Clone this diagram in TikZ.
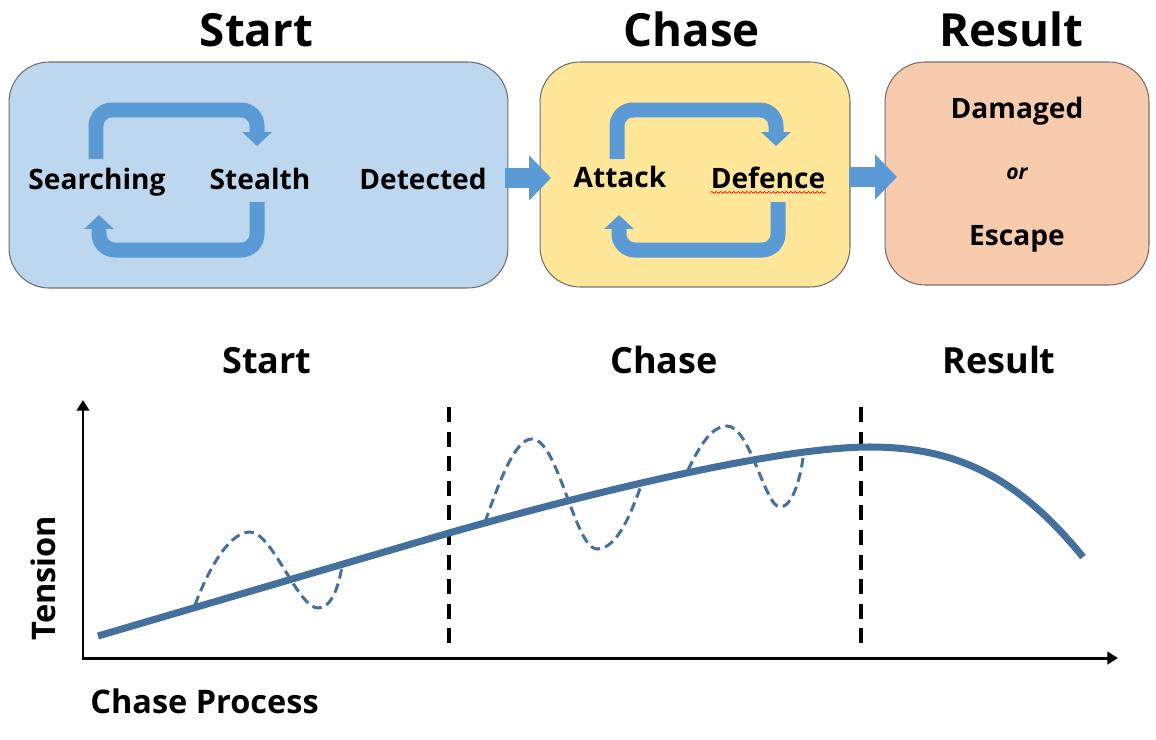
\documentclass[tikz,border=0pt]{standalone}
\usepackage{fontspec}
\setsansfont{Open Sans}
\usetikzlibrary{arrows.meta,decorations.pathmorphing}
\definecolor{startfill}{HTML}{BDD7EE}
\definecolor{chasefill}{HTML}{FFE699}
\definecolor{resultfill}{HTML}{F8CBAD}
\definecolor{boxline}{HTML}{6F6F6F}
\definecolor{flow}{HTML}{5B9BD5}
\definecolor{curvecol}{HTML}{44709E}
\begin{document}
\begin{tikzpicture}[x=0.02cm,y=-0.02cm,
  stagebox/.style={draw=boxline, line width=0.6pt, rounded corners=0.8cm, inner sep=0pt},
  title/.style={font=\sffamily\bfseries\fontsize{26}{30}\selectfont, anchor=base, inner sep=0pt},
  subtitle/.style={font=\sffamily\bfseries\fontsize{20.5}{24}\selectfont, anchor=base, inner sep=0pt},
  boxtext/.style={font=\sffamily\bfseries\fontsize{16}{19}\selectfont, anchor=base, inner sep=0pt},
  axislabel/.style={font=\sffamily\bfseries\fontsize{18.5}{22}\selectfont, anchor=base, inner sep=0pt},
  bigflow/.style={draw=flow, line width=0.4cm, -{Triangle[width=0.88cm,length=0.44cm]}},
  loopflow/.style={draw=flow, line width=0.3cm, rounded corners=0.32cm, -{Triangle[width=0.58cm,length=0.28cm]}},
  axis/.style={line width=1.7pt, line join=miter, {Triangle[width=7pt,length=6pt]}-{Triangle[width=7pt,length=6pt]}},
  divider/.style={line width=2.2pt, dash pattern=on 8.5pt off 5.5pt},
  tensionline/.style={draw=curvecol, line width=4pt},
  wave/.style={draw=curvecol, line width=1.7pt, dash pattern=on 5.5pt off 3pt}
]
\useasboundingbox (0,0) rectangle (1156,740);

% titles
\node[title] (t1) at (256.5,47) {Start};
\node[title] (t2) at (691.5,47) {Chase};
\node[title] (t3) at (1011.5,47) {Result};

% stage boxes
\node[stagebox, fill=startfill, minimum width=9.98cm, minimum height=4.52cm] (startbox) at (258.5,175) {};
\node[stagebox, fill=chasefill, minimum width=6.2cm, minimum height=4.5cm] (chasebox) at (695,174.5) {};
\node[stagebox, fill=resultfill, minimum width=5.28cm, minimum height=4.46cm] (resultbox) at (1017,173.5) {};

% arrows between boxes
\coordinate (a1s) at (505,178); \coordinate (a1e) at (551,178);
\coordinate (a2s) at (849,177); \coordinate (a2e) at (897,177);
\draw[bigflow] (a1s) -- (a1e);
\draw[bigflow] (a2s) -- (a2e);

% loops in start box
\coordinate (s1) at (96,159); \coordinate (s2) at (96,110); \coordinate (s3) at (257,110); \coordinate (s4) at (257,146);
\draw[loopflow] (s1) -- (s2) -- (s3) -- (s4);
\coordinate (s5) at (257,202); \coordinate (s6) at (257,250); \coordinate (s7) at (99,250); \coordinate (s8) at (99,215);
\draw[loopflow] (s5) -- (s6) -- (s7) -- (s8);

% loops in chase box
\coordinate (c1) at (617,159); \coordinate (c2) at (617,110); \coordinate (c3) at (776,110); \coordinate (c4) at (776,146);
\draw[loopflow] (c1) -- (c2) -- (c3) -- (c4);
\coordinate (c5) at (778,202); \coordinate (c6) at (778,250); \coordinate (c7) at (619,250); \coordinate (c8) at (619,215);
\draw[loopflow] (c5) -- (c6) -- (c7) -- (c8);

% box texts
\node[boxtext] (searching) at (97,189) {Searching};
\node[boxtext] (stealth) at (260,189) {Stealth};
\node[boxtext] (detected) at (423,189) {Detected};
\node[boxtext] (attack) at (620,187) {Attack};
\node[boxtext] (defence) at (768,188) {Defence};
\draw[red, line width=0.4pt, decorate, decoration={snake, amplitude=0.5pt, segment length=2.5pt}]
  ([yshift=-2.5pt]defence.base west) -- ([yshift=-2.5pt]defence.base east);
\node[boxtext] (damaged) at (1017,118) {Damaged};
\node[boxtext, font=\sffamily\bfseries\itshape\fontsize{12}{14}\selectfont] (or) at (1017,179) {or};
\node[boxtext] (escape) at (1017,245) {Escape};

% lower titles
\node[subtitle] (l1) at (267,373) {Start};
\node[subtitle] (l2) at (664,373) {Chase};
\node[subtitle] (l3) at (999,373) {Result};

% axes
\coordinate (O) at (83,658); \coordinate (Ytop) at (83,400); \coordinate (Xend) at (1118,658);
\draw[axis] (Ytop) -- (O) -- (Xend);
\node[axislabel, rotate=90] (ylab) at (55,578) {Tension};
\node[axislabel] (xlab) at (204.5,713) {Chase Process};

% dividers
\coordinate (d1a) at (449,407); \coordinate (d1b) at (449,647);
\coordinate (d2a) at (861,407); \coordinate (d2b) at (861,647);
\draw[divider] (d1a) -- (d1b);
\draw[divider] (d2a) -- (d2b);

% dashed waves
\draw[wave] (195,605) .. controls (212,560) and (232,532) .. (250,532)
  .. controls (272,532) and (298,608) .. (318,608)
  .. controls (332,608) and (339,585) .. (342,566);
\draw[wave] (485,522) .. controls (500,480) and (515,439) .. (532,439)
  .. controls (558,439) and (575,549) .. (597,549)
  .. controls (618,549) and (632,510) .. (641,486);
\draw[wave] (688,470) .. controls (700,445) and (712,426) .. (727,426)
  .. controls (750,426) and (765,507) .. (780,507)
  .. controls (792,507) and (800,480) .. (803,458);

% tension curve
\coordinate (p0) at (98,636); \coordinate (p1) at (449,533);
\coordinate (p2) at (870,447); \coordinate (p3) at (1083,557);
\draw[tensionline] (p0) -- (p1) .. controls (600,490) and (780,447) .. (p2)
  .. controls (960,447) and (1020,480) .. (p3);
\end{tikzpicture}
\end{document}
